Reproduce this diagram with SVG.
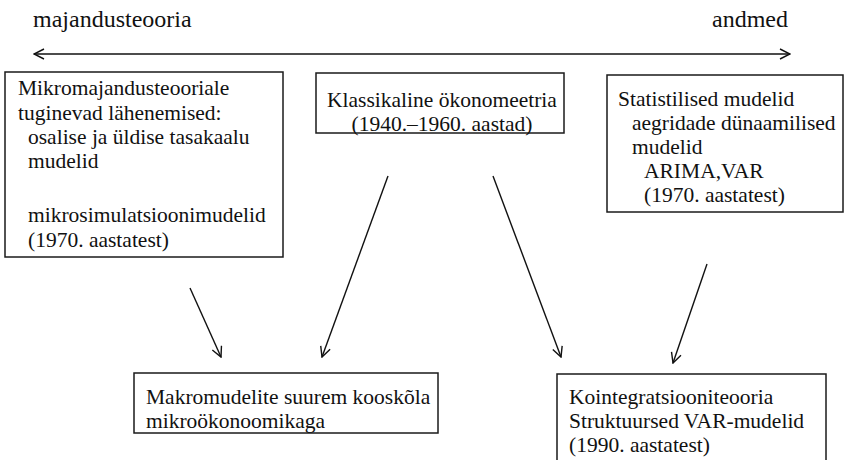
<svg xmlns="http://www.w3.org/2000/svg" width="848" height="460" viewBox="0 0 848 460">
  <style>
    text { font-family: "Liberation Serif", "Times New Roman", serif; font-size: 21.5px; fill: #111; }
    .label { font-size: 24px; }
    .mid { text-anchor: middle; }
    .box { fill: #fff; stroke: #1a1a1a; stroke-width: 1.5; }
    .conn { stroke: #111; stroke-width: 1.4; fill: none; }
  </style>
  <defs>
    <marker id="arrow" viewBox="0 0 12 12" refX="11" refY="6" markerWidth="12" markerHeight="12" markerUnits="userSpaceOnUse" orient="auto-start-reverse">
      <path d="M1,1 L11,6 L1,11" fill="none" stroke="#111" stroke-width="1.4"/>
    </marker>
  </defs>

  <rect width="848" height="460" fill="#fff"/>

  <!-- scale labels -->
  <g id="scale">
    <text class="label" x="33" y="27">majandusteooria</text>
    <text class="label" x="712" y="27">andmed</text>
  </g>

  <!-- connectors -->
  <g id="connectors">
    <line class="conn" x1="34" y1="54" x2="790" y2="54" marker-start="url(#arrow)" marker-end="url(#arrow)"/>
    <line class="conn" x1="190" y1="288" x2="221" y2="357" marker-end="url(#arrow)"/>
    <line class="conn" x1="388" y1="176" x2="322" y2="357" marker-end="url(#arrow)"/>
    <line class="conn" x1="493" y1="176" x2="561" y2="357" marker-end="url(#arrow)"/>
    <line class="conn" x1="707" y1="264" x2="673" y2="363" marker-end="url(#arrow)"/>
  </g>

  <g id="micro">
    <rect class="box" x="5" y="72" width="278" height="185"/>
    <text x="18" y="95">Mikromajandusteooriale</text>
    <text x="18" y="120">tuginevad lähenemised:</text>
    <text x="28" y="144">osalise ja üldise tasakaalu</text>
    <text x="28" y="168">mudelid</text>
    <text x="28" y="222">mikrosimulatsioonimudelid</text>
    <text x="28" y="247">(1970. aastatest)</text>
  </g>

  <g id="classic">
    <rect class="box" x="316" y="73" width="248" height="60"/>
    <text x="327" y="107">Klassikaline ökonomeetria</text>
    <text class="mid" x="442" y="131">(1940.–1960. aastad)</text>
  </g>

  <g id="statistical">
    <rect class="box" x="607" y="75" width="236" height="137"/>
    <text x="618" y="106">Statistilised mudelid</text>
    <text x="632" y="130">aegridade dünaamilised</text>
    <text x="632" y="154">mudelid</text>
    <text x="644" y="178">ARIMA,VAR</text>
    <text x="644" y="202">(1970. aastatest)</text>
  </g>

  <g id="macro">
    <rect class="box" x="134" y="373" width="304" height="60"/>
    <text x="146" y="404">Makromudelite suurem kooskõla</text>
    <text x="146" y="428">mikroökonoomikaga</text>
  </g>

  <g id="cointegration">
    <rect class="box" x="557" y="374" width="269" height="100"/>
    <text x="569" y="404">Kointegratsiooniteooria</text>
    <text x="569" y="428">Struktuursed VAR-mudelid</text>
    <text x="569" y="452">(1990. aastatest)</text>
  </g>
</svg>
